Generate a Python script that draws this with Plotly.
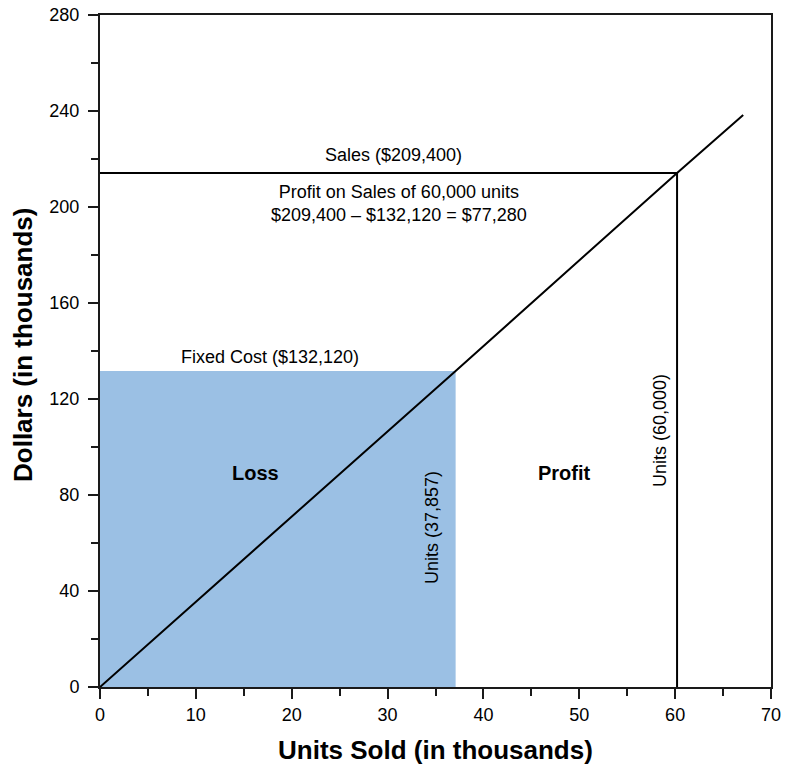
import plotly.graph_objects as go

# Values (thousands)
fixed_cost = 131.7
breakeven_units = 37.1
sales_units = 60.2
sales_dollars = 214.2
line_x = [0, breakeven_units, sales_units, 67.1]
line_y = [0, 131.7, 214.2, 238.3]

x_ticks = [0, 10, 20, 30, 40, 50, 60, 70]
y_ticks = [0, 40, 80, 120, 160, 200, 240, 280]

FONT = "Liberation Sans, Arial, Helvetica, sans-serif"
INK = "#1a1a1a"

fig = go.Figure()

# Fixed cost (loss) area
fig.add_trace(go.Scatter(
    x=[0, breakeven_units, breakeven_units, 0, 0],
    y=[0, 0, fixed_cost, fixed_cost, 0],
    fill="toself", fillcolor="#9bc0e4", line=dict(width=0),
    mode="lines", hoverinfo="skip", showlegend=False))

# Sales horizontal line
fig.add_trace(go.Scatter(x=[0, sales_units], y=[sales_dollars, sales_dollars],
                         mode="lines", line=dict(color="#000", width=2), showlegend=False))
# Units vertical line
fig.add_trace(go.Scatter(x=[sales_units, sales_units], y=[0, sales_dollars],
                         mode="lines", line=dict(color="#000", width=2), showlegend=False))
# Revenue line
fig.add_trace(go.Scatter(x=line_x, y=line_y, mode="lines",
                         line=dict(color="#000", width=2), showlegend=False))

ann = [
    dict(x=30.6, y=221.5, text="Sales ($209,400)", size=18, angle=0),
    dict(x=31.2, y=201.5, text="Profit on Sales of 60,000 units<br>$209,400 – $132,120 = $77,280", size=18, angle=0),
    dict(x=17.7, y=137.5, text="Fixed Cost ($132,120)", size=18, angle=0),
    dict(x=16.2, y=89, text="<b>Loss</b>", size=20, angle=0),
    dict(x=48.5, y=89, text="<b>Profit</b>", size=20, angle=0),
    dict(x=34.7, y=66.5, text="Units (37,857)", size=18, angle=-90),
    dict(x=58.4, y=107, text="Units (60,000)", size=18, angle=-90),
]
for a in ann:
    fig.add_annotation(x=a["x"], y=a["y"], text=a["text"], showarrow=False,
                       textangle=a["angle"], font=dict(family=FONT, size=a["size"], color="#000"),
                       xanchor="center", yanchor="middle")

# Axis titles (positions relative to plot area: 671 x 672 px)
fig.add_annotation(x=0.5, y=(687 - 750) / 672, xref="paper", yref="paper",
                   text="<b>Units Sold (in thousands)</b>",
                   showarrow=False, font=dict(family=FONT, size=26, color="#000"),
                   xanchor="center", yanchor="middle")
fig.add_annotation(x=(23 - 100) / 671, y=(687 - 345) / 672, xref="paper", yref="paper",
                   text="<b>Dollars (in thousands)</b>", textangle=-90,
                   showarrow=False, font=dict(family=FONT, size=26, color="#000"),
                   xanchor="center", yanchor="middle")

axis_common = dict(showline=True, mirror=True, linecolor=INK, linewidth=2,
                   ticks="outside", ticklen=10, tickwidth=2, tickcolor=INK,
                   showgrid=False, zeroline=False, automargin=False,
                   ticklabeloverflow="allow",
                   tickfont=dict(family=FONT, size=18, color="#000"))

fig.update_xaxes(range=[0, 70], tickvals=x_ticks, ticktext=[str(v) for v in x_ticks],
                 minor=dict(dtick=5, tick0=0, ticklen=7, tickwidth=2, tickcolor=INK, ticks="outside"),
                 **axis_common)
fig.update_yaxes(range=[0, 280], tickvals=y_ticks, ticktext=[str(v) for v in y_ticks],
                 minor=dict(dtick=20, tick0=0, ticklen=7, tickwidth=2, tickcolor=INK, ticks="outside"),
                 ticklabelstandoff=5,
                 **axis_common)

fig.update_layout(width=786, height=769, margin=dict(l=100, r=15, t=15, b=82),
                  paper_bgcolor="white", plot_bgcolor="white", showlegend=False)

# Remove the default page margin so the figure fills the window exactly
fig.write_html("out.html",
               config={"displayModeBar": False, "staticPlot": True},
               post_script="document.body.style.margin='0';document.body.style.overflow='hidden';")
